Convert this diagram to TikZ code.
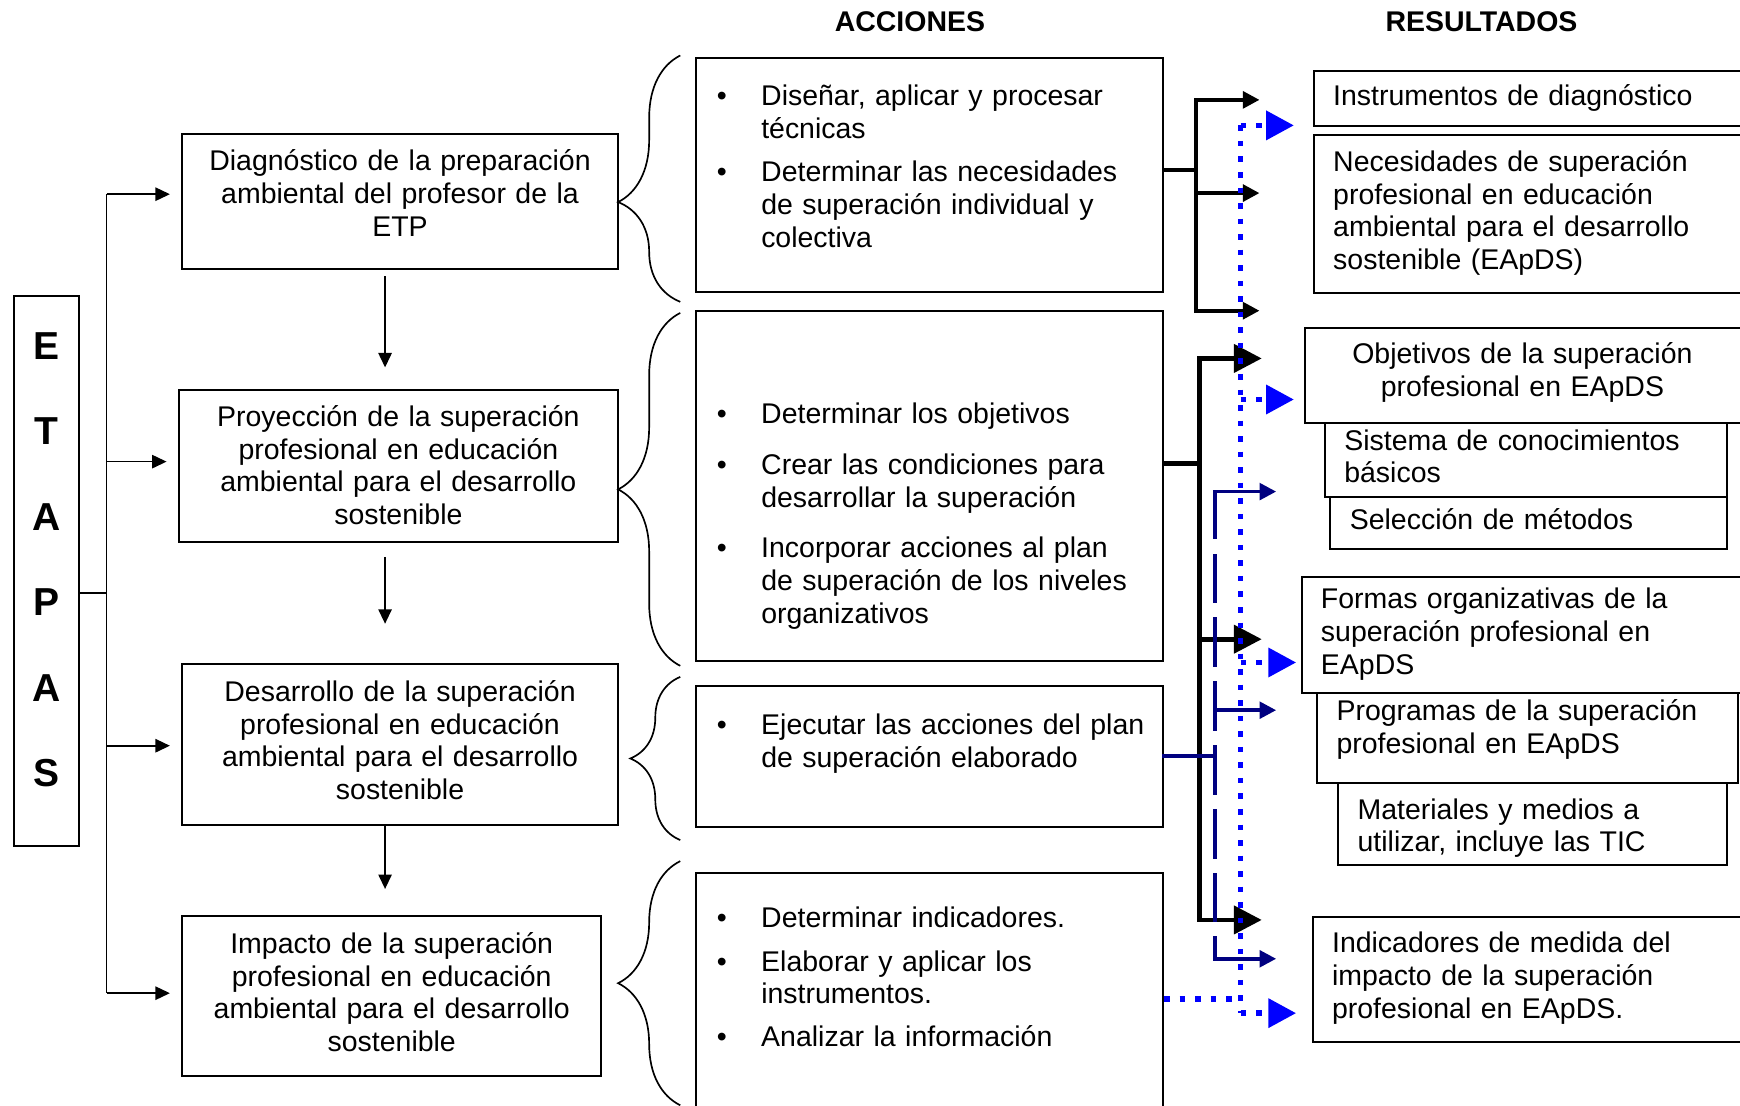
\documentclass[tikz,border=0pt]{standalone}
\usepackage{fontspec}
\setmainfont{Liberation Sans}
\usepackage{tikz}
\usetikzlibrary{arrows.meta}
\usetikzlibrary{calc}
\usetikzlibrary{decorations.pathreplacing}
\usepackage{xcolor}
\definecolor{navyline}{RGB}{0,0,128}
\definecolor{blueline}{RGB}{0,0,255}

\newcommand{\bitem}[1]{\par\leftskip=8mm\rightskip=0pt plus 1fil minus 20mm\noindent\llap{\makebox[8mm][l]{\textbullet}}\strut#1\strut\par}
\newcommand{\lowpad}[1]{\par\vspace*{#1}\hrule height 0pt}
\newcommand{\toppad}[1]{\rule{0pt}{\dimexpr0.7\baselineskip+#1\relax}}

\tikzset{
	txt/.style={font=\fontsize{14.6}{16.8}\selectfont},
	etbox/.style={txt,draw,line width=0.36mm,inner sep=0pt,text width=72mm,align=center},
	accbox/.style={txt,draw,line width=0.36mm,inner xsep=3.8mm,inner ysep=0pt,text width=76.6mm,align=left},
	resbox/.style={txt,draw,line width=0.36mm,anchor=north west,inner xsep=3.5mm,inner ysep=0pt,align=left},
	hdr/.style={font=\fontsize{14.6}{16.8}\selectfont\bfseries},
	thinline/.style={line width=0.3mm},
	etarrow/.style={thinline,-{Triangle[length=2.6mm,width=2.4mm]}},
	brc/.style={thinline,decorate},
	blackone/.style={line width=0.72mm},
	blackonetip/.style={blackone,-{Triangle[length=3mm,width=3mm]}},
	blacktwo/.style={line width=0.85mm},
	blacktwotip/.style={blacktwo,-{Triangle[length=5mm,width=5mm]}},
	nvline/.style={navyline,line width=0.66mm,line cap=rect},
	nvarrow/.style={nvline,-{Triangle[length=3mm,width=3mm]}},
	bdot/.style={blueline,line width=1mm,dash pattern=on 1mm off 1.8mm},
	barrow/.style={bdot,-{Triangle[length=5mm,width=5.1mm]}}
}

\begin{document}
\begin{tikzpicture}[x=0.2mm,y=-0.2mm]
	\useasboundingbox (0,0) rectangle (1568,996);
	\clip (0,0) rectangle (1568,996);
	\fill[white] (0,0) rectangle (1568,996);

	\node(hacc) at (820,20)[hdr]{ACCIONES};
	\node(hres) at (1335,20)[hdr]{RESULTADOS};

	\node(etapas) at (42,514.5)[draw,line width=0.36mm,inner sep=0pt,minimum width=11.6mm,minimum height=99mm,text width=11.6mm,align=center,font=\fontsize{20}{43.8}\selectfont\bfseries]{E\\T\\A\\P\\A\\S\lowpad{4mm}};

	\node(e1) at (360.5,181.5)[etbox,minimum width=78.6mm,minimum height=24.2mm]{\strut Diagnóstico de la preparación\\ ambiental del profesor de la\\ ETP\strut\lowpad{1.6mm}};
	\node(e2) at (359,419.5)[etbox,minimum width=79.2mm,minimum height=27.4mm]{\toppad{1.2mm}Proyección de la superación\\ profesional en educación\\ ambiental para el desarrollo\\ sostenible\strut};
	\node(e3) at (360.5,670.5)[etbox,minimum width=78.6mm,minimum height=29mm]{\strut Desarrollo de la superación\\ profesional en educación\\ ambiental para el desarrollo\\ sostenible\strut};
	\node(e4) at (353,897.5)[etbox,minimum width=75.6mm,minimum height=29mm]{\strut Impacto de la superación\\ profesional en educación\\ ambiental para el desarrollo\\ sostenible\strut};

	\node(a1) at (837.5,157.5)[accbox,minimum height=42.2mm]{\bitem{Diseñar, aplicar y procesar\\ técnicas}\vspace{1.9mm}\bitem{Determinar las necesidades\\ de superación individual y\\ colectiva}\lowpad{3.6mm}};
	\node(a2) at (837.5,438)[accbox,minimum height=63.2mm]{\vspace*{9.4mm}\bitem{Determinar los objetivos}\vspace{3.2mm}\bitem{Crear las condiciones para\\ desarrollar la superación}\vspace{3.2mm}\bitem{Incorporar acciones al plan\\ de superación de los niveles\\ organizativos}};
	\node(a3) at (837.5,681.5)[accbox,minimum height=25.4mm]{\bitem{Ejecutar las acciones del plan\\ de superación elaborado}\lowpad{6mm}};
	\node(a4) at (837.5,893.5)[accbox,minimum height=42.6mm]{\bitem{Determinar indicadores.}\vspace{1.9mm}\bitem{Elaborar y aplicar los\\ instrumentos.}\vspace{1.7mm}\bitem{Analizar la información}\lowpad{5.8mm}};

	\node(r1) at (1183,63)[resbox,minimum width=83.4mm,minimum height=10mm,text width=76.4mm]{\strut Instrumentos de diagnóstico\strut};
	\node(r2) at (1183,121)[resbox,minimum width=83.4mm,minimum height=28.4mm,text width=76.4mm]{\strut Necesidades de superación\\ profesional en educación\\ ambiental para el desarrollo\\ sostenible (EApDS)\strut};
	\node(r3) at (1175,295)[resbox,minimum width=85mm,minimum height=17mm,text width=78mm]{\parbox[t]{71.4mm}{\centering\strut Objetivos de la superación\\ profesional en EApDS\strut}\lowpad{0.8mm}};
	\node(r4) at (1193,380)[resbox,minimum width=72.4mm,minimum height=13.4mm,text width=65.4mm]{\strut Sistema de conocimientos\\ básicos\strut};
	\node(r5) at (1198,447)[resbox,minimum width=71.4mm,minimum height=9.4mm,text width=64.4mm]{\strut Selección de métodos\strut};
	\node(r6) at (1172,519)[resbox,minimum width=85.6mm,minimum height=21mm,text width=78.6mm]{\strut Formas organizativas de la\\ superación profesional en\\ EApDS\strut};
	\node(r7) at (1186,624)[resbox,minimum width=75.8mm,minimum height=16.2mm,text width=68.8mm]{\strut Programas de la superación\\ profesional en EApDS\strut\lowpad{3mm}};
	\node(r8) at (1205,705)[resbox,minimum width=70mm,minimum height=14.8mm,text width=63mm]{\toppad{1.6mm}Materiales y medios a\\ utilizar, incluye las TIC\strut};
	\node(r9) at (1182,825)[resbox,minimum width=83.6mm,minimum height=22.6mm,text width=76.6mm]{\strut Indicadores de medida del\\ impacto de la superación\\ profesional en EApDS.\strut};

	% etapas
	\coordinate (sp) at (96,0);
	\foreach \ebox/\dy in {e1/-6.5,e2/-3.5,e3/1.5,e4/-2.5}
		\path ($(\ebox.west)+(0,\dy)$) coordinate (in\ebox);
	\draw[thinline] ([yshift=-4mm]etapas.east) -- ([yshift=-4mm]etapas.east -| sp);
	\draw[thinline] (sp |- ine1) -- (sp |- ine4);
	\foreach \ebox in {e1,e2,e3,e4}
		\draw[etarrow,shorten >=2mm] (sp |- in\ebox) -- (in\ebox);

	\coordinate (dx) at (347,0);
	\draw[etarrow,shorten <=1.2mm,shorten >=3.8mm] (e1.south -| dx) -- (e2.north -| dx);
	\draw[etarrow,shorten <=2.6mm,shorten >=7mm] (e2.south -| dx) -- (e3.north -| dx);
	\draw[etarrow,shorten >=4.6mm] (e3.south -| dx) -- (e4.north -| dx);

	% llaves
	\draw[brc,decoration={brace,amplitude=11.2mm,aspect=0.405}] (613,272) -- (613,50);
	\draw[brc,decoration={brace,amplitude=11.2mm,aspect=0.5}] (613,600) -- (613,282);
	\draw[brc,decoration={brace,amplitude=9mm,aspect=0.5}] (613,757) -- (613,610);
	\draw[brc,decoration={brace,amplitude=11.2mm,aspect=0.5}] (613,996) -- (613,776);

	% resultados
	\coordinate (k1) at (1078,0);
	\coordinate (t11) at (1135,90);
	\coordinate (t12) at (1135,174);
	\coordinate (t13) at (1135,280);
	\draw[blackone] ([yshift=0.9mm]a1.east) -- ([yshift=0.9mm]a1.east -| k1);
	\draw[blackonetip] ([yshift=0.9mm]a1.east -| k1) |- (t11);
	\draw[blackonetip] ([yshift=0.9mm]a1.east -| k1) |- (t13);
	\draw[blackonetip] (k1 |- t12) -- (t12);

	\coordinate (k2) at (1081,0);
	\coordinate (t21) at (1137,323);
	\coordinate (t22) at (1137,576);
	\coordinate (t23) at (1137,829);
	\draw[blacktwo] ([yshift=4mm]a2.east) -- ([yshift=4mm]a2.east -| k2);
	\draw[blacktwotip] ([yshift=4mm]a2.east -| k2) |- (t21);
	\draw[blacktwotip] ([yshift=4mm]a2.east -| k2) |- (t23);
	\draw[blacktwotip] (k2 |- t22) -- (t22);

	\coordinate (k3) at (1095,0);
	\coordinate (n1) at (1150,443);
	\coordinate (n2) at (1150,640);
	\coordinate (n3) at (1150,864);
	\draw[nvline] (a3.east) -- (a3.east -| k3);
	\draw[nvline,dash pattern=on 8.3mm off 3.2mm] (k3 |- n1) -- (k3 |- n3);
	\foreach \tp in {n1,n2,n3}
		\draw[nvarrow] (k3 |- \tp) -- (\tp);

	\coordinate (bx) at (1118,0);
	\coordinate (b1) at (1166,113);
	\coordinate (b2) at (1166,360);
	\coordinate (b3) at (1168,597);
	\coordinate (b4) at (1168,913);
	\draw[bdot] ([yshift=-1.3mm]a4.east) -- ([yshift=-1.3mm]a4.east -| bx);
	\draw[bdot] (bx |- b1) -- (bx |- b4);
	\foreach \tp in {b1,b2,b3,b4}
		\draw[barrow] (bx |- \tp) -- (\tp);
\end{tikzpicture}
\end{document}
